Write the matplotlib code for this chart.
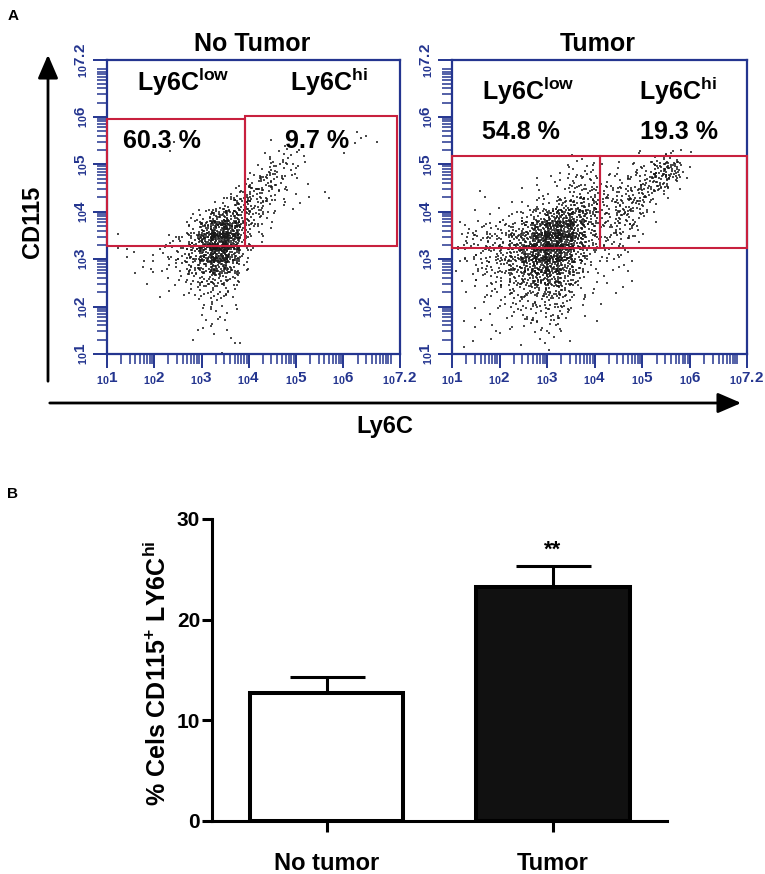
import numpy as np
import matplotlib
matplotlib.use("Agg")
import matplotlib.pyplot as plt
from matplotlib.patches import Rectangle

plt.rcParams['font.family'] = ['Liberation Sans', 'DejaVu Sans']
plt.rcParams['font.weight'] = 'bold'
plt.rcParams['mathtext.fontset'] = 'custom'
plt.rcParams['mathtext.rm'] = 'Liberation Sans:bold'
plt.rcParams['mathtext.bf'] = 'Liberation Sans:bold'
plt.rcParams['mathtext.it'] = 'Liberation Sans:bold'

# ---------------- data ----------------
panel_titles = ["No Tumor", "Tumor"]
low_pct = ["60.3 %", "54.8 %"]
hi_pct = ["9.7 %", "19.3 %"]

# gates (log10 units)
gate_split_x = [3.92, 4.11]
gate_bottom_y = [3.28, 3.24]
gate_top_low = [5.96, 5.18]
gate_top_hi = [6.01, 5.18]
gate_right_x = [7.13, 7.2]

axis_exponents = ["1", "2", "3", "4", "5", "6", "7.2"]
axis_major = [1, 2, 3, 4, 5, 6, 7.2]

# event density: rows = log10(CD115) bands of 0.25
# from 6.0 (top) to 1.0; columns = log10(Ly6C) bands of 0.25 from 1.0
density_origin_x = 1.0
density_top_y = 6.0
density_cell = 0.25
level_counts = [0, 2, 5, 9, 15, 23, 34, 48, 66, 88]

no_tumor_density = [
    "00000000000000000000000",
    "00000000000000000000011",
    "00000100000000110000100",
    "00000000000001221000000",
    "00000000000013321000000",
    "00000000000134311000000",
    "00000000001443210010000",
    "00000000024543111000000",
    "00000002466532000000000",
    "00000013688521000000000",
    "01000235898410000000000",
    "01111235797300000000000",
    "00101234675200000000000",
    "00011023454100000000000",
    "00001012332000000000000",
    "00000001221000000000000",
    "00000000121000000000000",
    "00000000110000000000000",
    "00000001101000000000000",
    "00000000001000000000000",
]

tumor_density = [
    "00000000000000000000000",
    "00000000000000000000000",
    "00000000000000000000000",
    "00000000001100011232000",
    "00000000012211123561000",
    "00000010122322234530000",
    "00100011123333344200000",
    "00010112345533442000000",
    "00101235676533431000000",
    "12233457886423320000000",
    "22334568986433210000000",
    "12334578875322200000000",
    "11234567764211100000000",
    "01223456653101000000000",
    "01122344542101100000000",
    "00112233331100000000000",
    "00101222321010000000000",
    "01010122210000000000000",
    "00010101110000000000000",
    "01000001000000000000000",
]

bar_categories = ["No tumor", "Tumor"]
bar_means = [12.7, 23.2]
bar_sem = [1.6, 2.1]
bar_colors = ["white", "#111111"]
signif_text = "**"

# ---------------- helpers ----------------
BLUE = "#24358f"
RED = "#c8203e"


def halton(i, b):
    f, r = 1.0, 0.0
    while i > 0:
        f /= b
        r += f * (i % b)
        i //= b
    return r


def cloud(grid):
    xs, ys = [], []
    idx = 1
    spread = 1.5
    for r, row in enumerate(grid):
        cy = density_top_y - (r + 0.5) * density_cell
        for c, ch in enumerate(row):
            n = level_counts[int(ch)]
            cx = density_origin_x + (c + 0.5) * density_cell
            for _ in range(n):
                xs.append(cx + (halton(idx, 2) - 0.5) * density_cell * spread)
                ys.append(cy + (halton(idx, 3) - 0.5) * density_cell * spread)
                idx += 1
    return np.array(xs), np.array(ys)


W, H = 765, 874
fig = plt.figure(figsize=(W / 100, H / 100), dpi=100)


def fx(px):
    return px / W


def fy(py):
    return 1 - py / H


grids = [no_tumor_density, tumor_density]
ax_rects = [(107, 400), (452, 747)]
low_pos = [((0.102, 0.896), (0.055, 0.702)), ((0.101, 0.864), (0.101, 0.730))]
hi_pos = [((0.625, 0.896), (0.607, 0.702)), ((0.635, 0.864), (0.637, 0.730))]

major_vals = [10 ** e for e in axis_major]
minor_vals = [m * 10 ** e for e in range(1, 7) for m in range(2, 10)] + [1e7]
tick_labels = [r"$_{10}$" + e for e in axis_exponents]

for k in range(2):
    x0, x1 = ax_rects[k]
    ax = fig.add_axes([fx(x0), fy(354), (x1 - x0) / W, (354 - 60) / H])
    ax.set_xscale('log')
    ax.set_yscale('log')
    lo, hi = 10 ** 1, 10 ** 7.2
    ax.set_xlim(lo, hi)
    ax.set_ylim(lo, hi)
    xs, ys = cloud(grids[k])
    ax.scatter(10 ** xs, 10 ** ys, s=3.0, marker='s', c='#181818', alpha=0.78,
               linewidths=0, zorder=2)
    # gates
    gx, gb = gate_split_x[k], gate_bottom_y[k]
    ax.add_patch(Rectangle((lo, 10 ** gb), 10 ** gx - lo, 10 ** gate_top_low[k] - 10 ** gb,
                           fill=False, ec=RED, lw=1.5, zorder=3, clip_on=False))
    ax.add_patch(Rectangle((10 ** gx, 10 ** gb), 10 ** gate_right_x[k] - 10 ** gx,
                           10 ** gate_top_hi[k] - 10 ** gb,
                           fill=False, ec=RED, lw=1.5, zorder=3, clip_on=False))
    for s in ax.spines.values():
        s.set_color(BLUE)
        s.set_linewidth(1.6)
    ax.set_xticks(major_vals)
    ax.set_yticks(major_vals)
    ax.set_xticks(minor_vals, minor=True)
    ax.set_yticks(minor_vals, minor=True)
    ax.set_xticklabels(tick_labels, fontsize=11, color=BLUE)
    ax.set_yticklabels(tick_labels, fontsize=11, color=BLUE, rotation=90, va='center')
    ax.tick_params(axis='both', which='minor', labelbottom=False, labelleft=False)
    ax.tick_params(which='major', direction='out', length=10, width=1.4, color=BLUE, pad=2)
    ax.tick_params(which='minor', direction='out', length=7, width=1.1, color=BLUE)
    ax.set_facecolor('white')
    # texts
    ax.text(low_pos[k][0][0], low_pos[k][0][1], r"Ly6C$^{\mathbf{low}}$", transform=ax.transAxes,
            fontsize=18, ha='left', va='baseline')
    ax.text(low_pos[k][1][0], low_pos[k][1][1], low_pct[k], transform=ax.transAxes,
            fontsize=18, ha='left', va='baseline')
    ax.text(hi_pos[k][0][0], hi_pos[k][0][1], r"Ly6C$^{\mathbf{hi}}$", transform=ax.transAxes,
            fontsize=18, ha='left', va='baseline')
    ax.text(hi_pos[k][1][0], hi_pos[k][1][1], hi_pct[k], transform=ax.transAxes,
            fontsize=18, ha='left', va='baseline')
    ax.text(0.495, 1.032, panel_titles[k], transform=ax.transAxes, fontsize=18,
            ha='center', va='baseline')

# big axis arrows
fig.add_artist(matplotlib.patches.FancyArrowPatch(
    (fx(48), fy(384)), (fx(48), fy(52)), transform=fig.transFigure,
    arrowstyle='-|>,head_length=0.65,head_width=0.28', mutation_scale=22,
    lw=2, color='black'))
fig.add_artist(matplotlib.patches.FancyArrowPatch(
    (fx(47), fy(403)), (fx(744), fy(403)), transform=fig.transFigure,
    arrowstyle='-|>,head_length=0.65,head_width=0.28', mutation_scale=22,
    lw=2, color='black'))
fig.text(fx(33), fy(222), "CD115", rotation=90, fontsize=17, ha='center', va='center')
fig.text(fx(385), fy(426), "Ly6C", fontsize=17, ha='center', va='center')
fig.text(fx(13), fy(16), "A", fontsize=11, ha='center', va='center')
fig.text(fx(12), fy(494), "B", fontsize=11, ha='center', va='center')

# ---------------- bar chart ----------------
axb = fig.add_axes([fx(212), fy(821), (667 - 212) / W, (821 - 519) / H])
xpos = np.arange(len(bar_categories))
axb.bar(xpos, bar_means, width=0.676, color=bar_colors, edgecolor='black',
        linewidth=2.9, zorder=2)
axb.errorbar(xpos, bar_means, yerr=[np.zeros(len(bar_sem)), bar_sem], fmt='none',
             ecolor='black', elinewidth=2.2, capsize=27, capthick=2.2, zorder=1)
axb.set_xlim(-0.5055, 1.503)
axb.set_ylim(0, 30)
axb.spines['top'].set_visible(False)
axb.spines['right'].set_visible(False)
axb.spines['left'].set_linewidth(2.2)
axb.spines['bottom'].set_linewidth(2.2)
axb.set_yticks([0, 10, 20, 30])
axb.set_yticklabels(["0", "10", "20", "30"], fontsize=15)
axb.set_xticks(xpos)
axb.set_xticklabels(bar_categories, fontsize=17)
axb.tick_params(axis='y', length=7, width=2.2, pad=1.5)
axb.tick_params(axis='x', length=8, width=2.2, pad=14)
axb.text(xpos[1], bar_means[1] + bar_sem[1] + 1.1, signif_text, fontsize=16,
         ha='center', va='baseline')
fig.text(fx(157), fy(673), r"% Cels CD115$^{\mathbf{+}}$ LY6C$^{\mathbf{hi}}$",
         rotation=90, fontsize=18, ha='center', va='center')

fig.savefig("out.png", dpi=100)
